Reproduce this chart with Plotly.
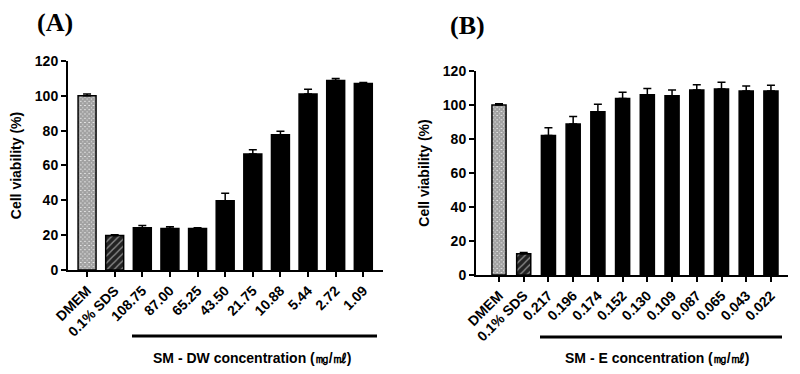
import plotly.graph_objects as go

# Panel A data
cats_a = ["DMEM", "0.1% SDS", "108.75", "87.00", "65.25", "43.50", "21.75", "10.88", "5.44", "2.72", "1.09"]
vals_a = [100.0, 19.8, 24.2, 23.8, 23.8, 39.7, 66.6, 77.7, 101.0, 108.8, 107.1]
errs_a = [1.0, 0.4, 1.3, 1.0, 0.4, 4.4, 2.5, 2.0, 2.8, 1.2, 0.6]

# Panel B data
cats_b = ["DMEM", "0.1% SDS", "0.217", "0.196", "0.174", "0.152", "0.130", "0.109", "0.087", "0.065", "0.043", "0.022"]
vals_b = [100.0, 12.4, 82.1, 88.8, 96.1, 103.9, 106.1, 105.5, 108.8, 109.4, 108.3, 108.3]
errs_b = [0.8, 0.8, 4.5, 4.5, 4.3, 3.6, 3.6, 3.3, 3.2, 4.0, 2.9, 3.3]

yticks = [0, 20, 40, 60, 80, 100, 120]

FONT = "Arial, Liberation Sans, sans-serif"

def styles(n):
    colors, shapes, fg, bg, sol, sizes = [], [], [], [], [], []
    for i in range(n):
        if i == 0:
            colors.append("white"); shapes.append("x"); fg.append("black"); bg.append("#d8d8d8"); sol.append(0.9); sizes.append(3)
        elif i == 1:
            colors.append("#222"); shapes.append("/"); fg.append("#bbbbbb"); bg.append("#222222"); sol.append(0.25); sizes.append(5)
        else:
            colors.append("black"); shapes.append(""); fg.append("black"); bg.append("black"); sol.append(0.3); sizes.append(6)
    return colors, shapes, fg, bg, sol, sizes

fig = go.Figure()

for cats, vals, errs, xa, ya, w in [
    (cats_a, vals_a, errs_a, "x", "y", 0.65),
    (cats_b, vals_b, errs_b, "x2", "y2", 0.57),
]:
    c, s, fg, bg, sol, sz = styles(len(cats))
    fig.add_trace(go.Bar(
        x=cats, y=vals, width=w, xaxis=xa, yaxis=ya,
        marker=dict(color=c, line=dict(color="black", width=1.5),
                    pattern=dict(shape=s, fgcolor=fg, bgcolor=bg, solidity=sol, size=sz)),
        error_y=dict(type="data", symmetric=False, array=errs, arrayminus=[0] * len(errs),
                     color="black", thickness=1.5, width=4),
        showlegend=False,
    ))

axis_common = dict(showline=True, linecolor="black", linewidth=2, ticks="outside",
                   tickcolor="black", tickwidth=2, ticklen=5, showgrid=False, zeroline=False,
                   automargin=False,
                   tickfont=dict(family=FONT, size=14, color="black", weight="bold"))

ytitle_font = dict(family=FONT, size=14, color="black", weight="bold")

fig.update_layout(
    width=800, height=374, margin=dict(l=0, r=0, t=0, b=0),
    plot_bgcolor="white", paper_bgcolor="white", bargap=0.3,
    xaxis=dict(domain=[0.085, 0.479], anchor="y", type="category", range=[-0.69, 10.72],
               tickangle=-45, **axis_common),
    yaxis=dict(domain=[0.278, 0.837], anchor="x", range=[0, 120], tickvals=yticks,
               title=dict(text="Cell viability (%)", font=ytitle_font, standoff=10),
               **axis_common),
    xaxis2=dict(domain=[0.595, 0.985], anchor="y2", type="category", range=[-0.93, 11.69],
                tickangle=-45, **axis_common),
    yaxis2=dict(domain=[0.265, 0.810], anchor="x2", range=[0, 120], tickvals=yticks,
                title=dict(text="Cell viability (%)", font=ytitle_font, standoff=10),
                **axis_common),
)

# underline bars and x titles
fig.add_shape(type="line", xref="paper", yref="paper", x0=132/800, x1=377/800, y0=1-336/374, y1=1-336/374,
              line=dict(color="black", width=3))
fig.add_shape(type="line", xref="paper", yref="paper", x0=540/800, x1=782/800, y0=1-337/374, y1=1-337/374,
              line=dict(color="black", width=3))
fig.add_annotation(xref="paper", yref="paper", x=252/800, y=1-358/374, showarrow=False,
                   xanchor="center", yanchor="middle",
                   text="SM - DW concentration (㎎/㎖)", font=dict(family=FONT, size=14, color="black", weight="bold"))
fig.add_annotation(xref="paper", yref="paper", x=657/800, y=1-358/374, showarrow=False,
                   xanchor="center", yanchor="middle",
                   text="SM - E concentration (㎎/㎖)", font=dict(family=FONT, size=14, color="black", weight="bold"))
# panel labels
fig.add_annotation(xref="paper", yref="paper", x=55/800, y=1-22/374, showarrow=False,
                   xanchor="center", yanchor="middle",
                   text="(A)", font=dict(family="Liberation Serif, Times New Roman, serif", size=26, color="black", weight="bold"))
fig.add_annotation(xref="paper", yref="paper", x=467/800, y=1-25/374, showarrow=False,
                   xanchor="center", yanchor="middle",
                   text="(B)", font=dict(family="Liberation Serif, Times New Roman, serif", size=26, color="black", weight="bold"))

fig.write_html("out.html", config={"displayModeBar": False},
               post_script="document.body.style.margin='0';document.body.style.overflow='hidden';")
